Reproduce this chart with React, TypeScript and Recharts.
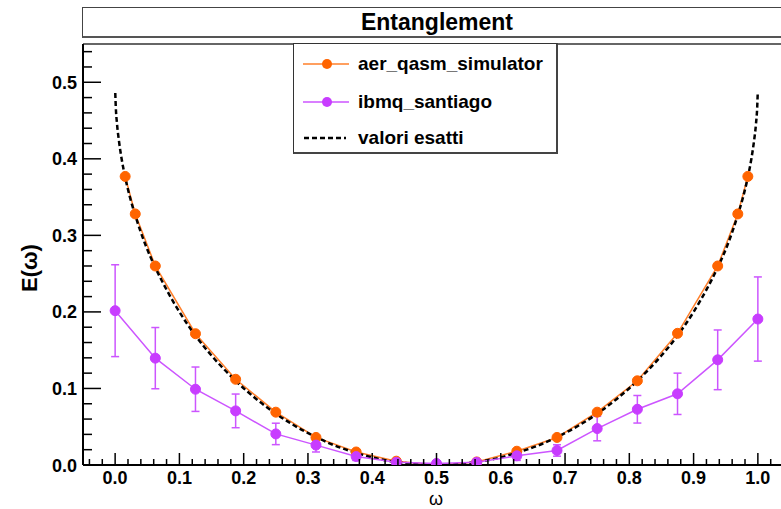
import { ComposedChart, Line, XAxis, YAxis, ErrorBar, ReferenceLine } from 'recharts';

// aer_qasm_simulator points
const aerOmega = [0.0156, 0.0313, 0.0625, 0.125, 0.1875, 0.25, 0.3125, 0.375, 0.4375, 0.5, 0.5625, 0.625, 0.6875, 0.75, 0.8125, 0.875, 0.9375, 0.9688, 0.9844];
const aerValues = [0.377, 0.328, 0.26, 0.1715, 0.112, 0.069, 0.036, 0.017, 0.005, 0.0, 0.004, 0.018, 0.036, 0.069, 0.11, 0.172, 0.26, 0.328, 0.377];

// ibmq_santiago points + errors
const ibmqOmega = [0, 0.0625, 0.125, 0.1875, 0.25, 0.3125, 0.375, 0.4375, 0.5, 0.5625, 0.625, 0.6875, 0.75, 0.8125, 0.875, 0.9375, 1];
const ibmqValues = [0.2016, 0.1396, 0.099, 0.0707, 0.0406, 0.026, 0.011, 0.0035, 0.002, 0.0035, 0.012, 0.019, 0.0476, 0.0728, 0.093, 0.1374, 0.1907];
const ibmqErrors = [0.06, 0.04, 0.029, 0.022, 0.014, 0.009, 0.005, 0.002, 0.002, 0.002, 0.006, 0.0075, 0.016, 0.018, 0.027, 0.039, 0.055];

// valori esatti (dashed curve)
const exactOmega = [0.0002, 0.001, 0.003, 0.006, 0.01, 0.0156, 0.023, 0.031, 0.047, 0.0625, 0.08, 0.1, 0.125, 0.15, 0.1875, 0.22, 0.25, 0.28, 0.3125, 0.34, 0.375, 0.41, 0.4375, 0.47, 0.5,
  0.53, 0.5625, 0.59, 0.625, 0.66, 0.6875, 0.72, 0.75, 0.78, 0.8125, 0.85, 0.875, 0.9, 0.92, 0.9375, 0.953, 0.969, 0.977, 0.9844, 0.99, 0.994, 0.997, 0.999, 0.9998];
const exactValues = [0.486, 0.468, 0.445, 0.423, 0.4005, 0.376, 0.35, 0.327, 0.288, 0.258, 0.229, 0.2, 0.169, 0.143, 0.11, 0.086, 0.067, 0.051, 0.0365, 0.026, 0.016, 0.008, 0.004, 0.001, 0,
  0.001, 0.004, 0.008, 0.016, 0.026, 0.0365, 0.051, 0.067, 0.086, 0.11, 0.143, 0.169, 0.2, 0.229, 0.258, 0.288, 0.327, 0.35, 0.376, 0.4005, 0.423, 0.445, 0.468, 0.486];

const xMajor = [0, 0.1, 0.2, 0.3, 0.4, 0.5, 0.6, 0.7, 0.8, 0.9, 1.0];
const yMajor = [0, 0.1, 0.2, 0.3, 0.4, 0.5];
const xTicks = Array.from({ length: 55 }, (_, i) => Math.round((-0.04 + i * 0.02) * 100) / 100);
const yTicks = Array.from({ length: 28 }, (_, i) => Math.round(i * 0.02 * 100) / 100);

const aerData = aerOmega.map((x, i) => ({ x, y: aerValues[i] }));
const ibmqData = ibmqOmega.map((x, i) => ({ x, y: ibmqValues[i], err: ibmqErrors[i] }));
const exactData = exactOmega.map((x, i) => ({ x, y: exactValues[i] }));

const ORANGE = '#ff7f2a';
const ORANGE_DOT = '#ff6400';
const PURPLE = '#cc55ff';
const PURPLE_DOT = '#c83cff';
const FONT = '"Liberation Sans", Arial, sans-serif';

const isMajor = (v: number, list: number[]) => list.some((m) => Math.abs(m - v) < 1e-6);

const XTick = (props: any) => {
  const { x, y, payload } = props;
  const major = isMajor(payload.value, xMajor);
  return (
    <g>
      <line x1={x} x2={x} y1={y} y2={y - (major ? 12 : 6)} stroke="#000" strokeWidth={1.5} />
      {major && (
        <text x={x} y={y + 19} textAnchor="middle" fontFamily={FONT} fontWeight="bold" fontSize={18} fill="#000">
          {payload.value.toFixed(1)}
        </text>
      )}
    </g>
  );
};

const YTick = (props: any) => {
  const { x, y, payload } = props;
  const major = isMajor(payload.value, yMajor);
  return (
    <g>
      <line x1={x} x2={x + (major ? 18 : 9)} y1={y} y2={y} stroke="#000" strokeWidth={1.5} />
      {major && (
        <text x={x - 6} y={y + 6.5} textAnchor="end" fontFamily={FONT} fontWeight="bold" fontSize={18} fill="#000">
          {payload.value.toFixed(1)}
        </text>
      )}
    </g>
  );
};

const legendItems = [
  { label: 'aer_qasm_simulator', color: ORANGE, dot: ORANGE_DOT, dash: false, top: 20 },
  { label: 'ibmq_santiago', color: PURPLE, dot: PURPLE_DOT, dash: false, top: 58 },
  { label: 'valori esatti', color: '#000', dot: '', dash: true, top: 94 },
];

export default function App() {
  return (
    <div style={{ position: 'absolute', left: 0, top: 0, width: 781, height: 509, overflow: 'hidden', background: '#fff', fontFamily: FONT }}>
      {/* title box */}
      <div style={{ position: 'absolute', left: 82, top: 7, width: 720, height: 28, border: '1.5px solid #444', borderBottom: '2.5px solid #555', background: '#fff', lineHeight: '28px', fontWeight: 'bold', fontSize: 23, color: '#000' }}>
        <span style={{ position: 'absolute', left: 274, width: 160, textAlign: 'center' }}>Entanglement</span>
      </div>

      <div style={{ position: 'absolute', left: 0, top: 0 }}>
        <ComposedChart width={800} height={509} margin={{ top: 44, right: 10, left: 0, bottom: 0 }}>
          <XAxis
            dataKey="x"
            type="number"
            domain={[-0.05, 1.05]}
            ticks={xTicks}
            interval={0}
            allowDataOverflow
            height={44}
            tickSize={0}
            tickMargin={0}
            tick={<XTick />}
            axisLine={{ stroke: '#000', strokeWidth: 2 }}
          />
          <YAxis
            type="number"
            domain={[0, 0.55]}
            ticks={yTicks}
            interval={0}
            allowDataOverflow
            width={83}
            tickSize={0}
            tickMargin={0}
            tick={<YTick />}
            axisLine={{ stroke: '#000', strokeWidth: 2 }}
          />
          <ReferenceLine y={0.55} stroke="#333" strokeWidth={1.5} />
          <Line
            data={aerData}
            dataKey="y"
            type="linear"
            stroke={ORANGE}
            strokeWidth={1.5}
            dot={{ r: 5, fill: ORANGE_DOT, stroke: ORANGE_DOT, strokeWidth: 1 }}
            isAnimationActive={false}
          />
          <Line
            data={exactData}
            dataKey="y"
            type="monotone"
            stroke="#000"
            strokeWidth={2.5}
            strokeDasharray="5 3"
            dot={false}
            isAnimationActive={false}
          />
          <Line
            data={ibmqData}
            dataKey="y"
            type="linear"
            stroke={PURPLE}
            strokeWidth={1.5}
            dot={{ r: 5, fill: PURPLE_DOT, stroke: PURPLE_DOT, strokeWidth: 1 }}
            isAnimationActive={false}
          >
            <ErrorBar dataKey="err" direction="y" width={4} stroke={PURPLE} strokeWidth={1.5} isAnimationActive={false} />
          </Line>
        </ComposedChart>
      </div>

      {/* legend */}
      <div style={{ position: 'absolute', left: 293, top: 43, width: 262, height: 108, border: '1.5px solid #333', borderRight: '2.5px solid #444', borderBottom: '2.5px solid #444', background: '#fff', fontWeight: 'bold', fontSize: 19, color: '#000' }}>
        {legendItems.map((e) => (
          <div key={e.label} style={{ position: 'absolute', left: 0, top: e.top - 12, height: 24, width: 258 }}>
            <svg width={60} height={24} style={{ position: 'absolute', left: 0, top: 0 }}>
              {e.dash ? (
                <line x1={10} x2={52} y1={12} y2={12} stroke="#000" strokeWidth={2.5} strokeDasharray="5 3" />
              ) : (
                <>
                  <line x1={9} x2={55} y1={12} y2={12} stroke={e.color} strokeWidth={1.5} />
                  <circle cx={33} cy={12} r={5} fill={e.dot} />
                </>
              )}
            </svg>
            <span style={{ position: 'absolute', left: 64, top: 0, lineHeight: '24px' }}>{e.label}</span>
          </div>
        ))}
      </div>

      {/* axis titles */}
      <div style={{ position: 'absolute', left: 30, top: 268, transform: 'translate(-50%, -50%) rotate(-90deg)', fontWeight: 'bold', fontSize: 22, lineHeight: 1, color: '#000', whiteSpace: 'nowrap' }}>
        E(ω)
      </div>
      <div style={{ position: 'absolute', left: 436, top: 499, transform: 'translate(-50%, -50%)', fontSize: 18, lineHeight: 1, color: '#000' }}>
        ω
      </div>
    </div>
  );
}
